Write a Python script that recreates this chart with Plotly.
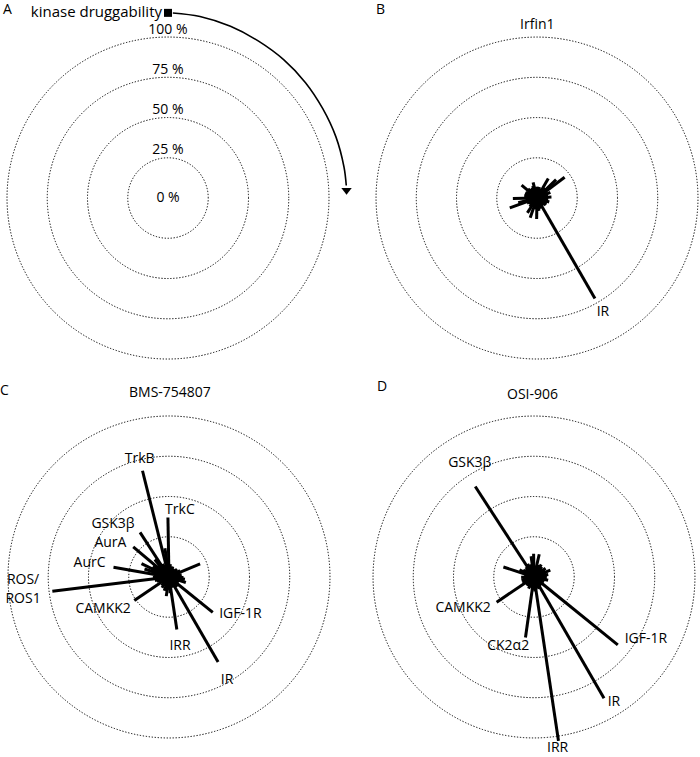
import plotly.graph_objects as go

# kinases with a named label, and their angle on the wheel (deg, clockwise from top)
named_kinases = ["TrkB", "TrkC", "GSK3β", "AurA", "AurC", "ROS/ROS1", "CAMKK2", "CK2α2", "IRR", "IR", "IGF-1R"]
named_theta = [346, 359, 327, 310, 280, 263, 236, 188, 171.5, 150, 129]

# remaining kinases (unlabelled) on the wheel
other_theta = [6, 13, 20, 30, 38, 46, 53, 60, 67, 74,
               80, 86, 92, 98, 103, 108, 114, 120, 138, 143,
               157, 163, 176, 181, 194, 199, 205, 213, 220, 227,
               243, 250, 256, 269, 274, 288, 296, 303, 316, 321,
               334, 340, 352]

# % inhibition per compound
irfin1_named = [10, 7, 7, 12.5, 8, 7, 6, 7, 8, 72, 7]
irfin1_other = [7, 7, 6, 14, 8, 16.5, 21.5, 7, 9, 6,
                7, 9, 6, 7, 6, 8, 6, 7, 6, 6,
                7, 6, 8, 13, 7, 13, 6, 11, 7, 6,
                7, 18, 12, 15, 7, 8, 8, 7, 8, 6,
                7, 8, 6]

bms_named = [68, 37, 33, 29, 35, 73, 26, 12, 33, 61, 35]
bms_other = [8, 6, 7, 6, 5, 7, 6, 8, 21, 7,
             8, 6, 9, 10, 7, 11, 6, 7, 8, 6,
             7, 6, 10, 8, 7, 9, 6, 8, 7, 6,
             7, 8, 9, 10, 9, 16, 19, 12, 10, 14,
             9, 8, 18]

osi_named = [8, 14.5, 67, 7, 6, 7, 28, 38, 103, 87, 67]
osi_other = [7, 14.5, 8, 9, 8, 7, 9, 8, 11, 8,
             9, 7, 8, 6, 9, 6, 7, 6, 7, 6,
             8, 7, 9, 8, 7, 6, 8, 7, 6, 7,
             8, 7, 8, 8, 6, 20, 10, 8, 7, 8,
             9, 8, 13]

# label placement (text, theta, r, position)
labels_b = [("IR", 150, 82, "middle center")]
labels_c = [("TrkB", 346, 75, "middle center"), ("TrkC", 9.3, 42, "middle center"),
            ("GSK3β", 313, 47.5, "middle center"), ("AurA", 300, 42, "middle center"),
            ("AurC", 279.3, 50, "middle center"), ("ROS/<br>ROS1", 264.9, 91, "middle center"),
            ("CAMKK2", 244, 45.5, "middle center"), ("IGF-1R", 117.5, 50, "middle center"),
            ("IRR", 171, 44, "middle center"), ("IR", 150.6, 73.5, "middle center")]
labels_d = [("GSK3β", 330.5, 81, "middle center"), ("CAMKK2", 245.7, 48.3, "middle center"),
            ("CK2α2", 200.4, 46, "middle center"), ("IGF-1R", 119, 79.5, "middle center"),
            ("IR", 147.6, 92.7, "middle center"), ("IRR", 171.8, 103, "bottom center")]

ring_values = [0, 25, 50, 75, 100]
ring_text = ["0 %", "25 %", "50 %", "75 %", "100 %"]

FONT = "Open Sans"


def spikes(named_vals, other_vals, subplot):
    thetas = named_theta + other_theta
    vals = named_vals + other_vals
    r, th = [], []
    for t, v in zip(thetas, vals):
        r += [0, v, None]
        th += [t, t, None]
    return go.Scatterpolar(r=r, theta=th, mode="lines", subplot=subplot,
                           line=dict(color="black", width=3), hoverinfo="skip", showlegend=False)


def label_trace(labels, subplot):
    return go.Scatterpolar(r=[l[2] for l in labels], theta=[l[1] for l in labels],
                           text=[l[0] for l in labels], mode="text", subplot=subplot,
                           textposition=[l[3] for l in labels], cliponaxis=False,
                           textfont=dict(family=FONT, size=14, color="black"),
                           hoverinfo="skip", showlegend=False)


fig = go.Figure()

# A: legend wheel
fig.add_trace(go.Scatterpolar(r=ring_values, theta=[0] * 5, text=ring_text, mode="text",
                              textposition=["middle center", "top center", "top center", "top center", "top center"],
                              cliponaxis=False, subplot="polar",
                              textfont=dict(family=FONT, size=14, color="black"),
                              hoverinfo="skip", showlegend=False))

# arrow showing direction of the wheel
arc_theta = [1.5, 10, 20, 30, 40, 50, 60, 70, 80, 86]
arc_r = [115, 114.5, 113.5, 112.5, 112, 111.5, 111, 111, 111, 111]
fig.add_trace(go.Scatterpolar(r=arc_r, theta=arc_theta, mode="lines", subplot="polar5",
                              line=dict(color="black", width=1.6, shape="spline"),
                              hoverinfo="skip", showlegend=False))
fig.add_trace(go.Scatterpolar(r=[111], theta=[87.5], mode="markers", subplot="polar5",
                              marker=dict(symbol="triangle-down", size=9, color="black"),
                              cliponaxis=False, hoverinfo="skip", showlegend=False))
fig.add_trace(go.Scatterpolar(r=[115], theta=[0], mode="markers+text", subplot="polar5",
                              text=["kinase druggability"], textposition="middle left",
                              marker=dict(symbol="square", size=8, color="black"),
                              textfont=dict(family=FONT, size=15, color="black"),
                              cliponaxis=False, hoverinfo="skip", showlegend=False))

# B, C, D
fig.add_trace(spikes(irfin1_named, irfin1_other, "polar2"))
fig.add_trace(label_trace(labels_b, "polar2"))
fig.add_trace(spikes(bms_named, bms_other, "polar3"))
fig.add_trace(label_trace(labels_c, "polar3"))
fig.add_trace(spikes(osi_named, osi_other, "polar4"))
fig.add_trace(label_trace(labels_d, "polar4"))


def polar_layout(dx, dy, rmax, grid=True):
    return dict(
        domain=dict(x=dx, y=dy),
        bgcolor="rgba(0,0,0,0)",
        radialaxis=dict(range=[0, rmax], tickvals=[25, 50, 75, 100], showticklabels=False,
                        ticks="", showline=False, showgrid=grid, gridcolor="black",
                        gridwidth=1.3, griddash="1.3px,1.7px"),
        angularaxis=dict(rotation=90, direction="clockwise", showgrid=False, showline=False,
                         showticklabels=False, ticks=""),
    )


fig.update_layout(
    width=700, height=757,
    margin=dict(l=0, r=0, t=0, b=0),
    paper_bgcolor="white", plot_bgcolor="white",
    showlegend=False,
    polar=polar_layout([0.0077, 0.4723], [0.5236, 0.9532], 101),
    polar2=polar_layout([0.5349, 0.9994], [0.5236, 0.9532], 101),
    polar3=polar_layout([0.0091, 0.4737], [0.0230, 0.4526], 101),
    polar4=polar_layout([0.5260, 0.9997], [0.0188, 0.4568], 103),
)
p5 = polar_layout([0.24, 0.5114], [0.7384, 0.9894], 118, grid=False)
p5["sector"] = [0, 90]
fig.update_layout(polar5=p5)

annos = [("A", 0.010, 0.9894), ("B", 0.5429, 0.9894), ("C", 0.0071, 0.4861), ("D", 0.5457, 0.4914),
         ("Irfin1", 0.767, 0.9696), ("BMS-754807", 0.2429, 0.4822), ("OSI-906", 0.76, 0.4808)]
for txt, x, y in annos:
    fig.add_annotation(text=txt, x=x, y=y, xref="paper", yref="paper", showarrow=False,
                       xanchor="center", yanchor="middle",
                       font=dict(family=FONT, size=14, color="black"))

fig.write_html("out.html", config={"displayModeBar": False},
               post_script="document.body.style.margin='0';")
